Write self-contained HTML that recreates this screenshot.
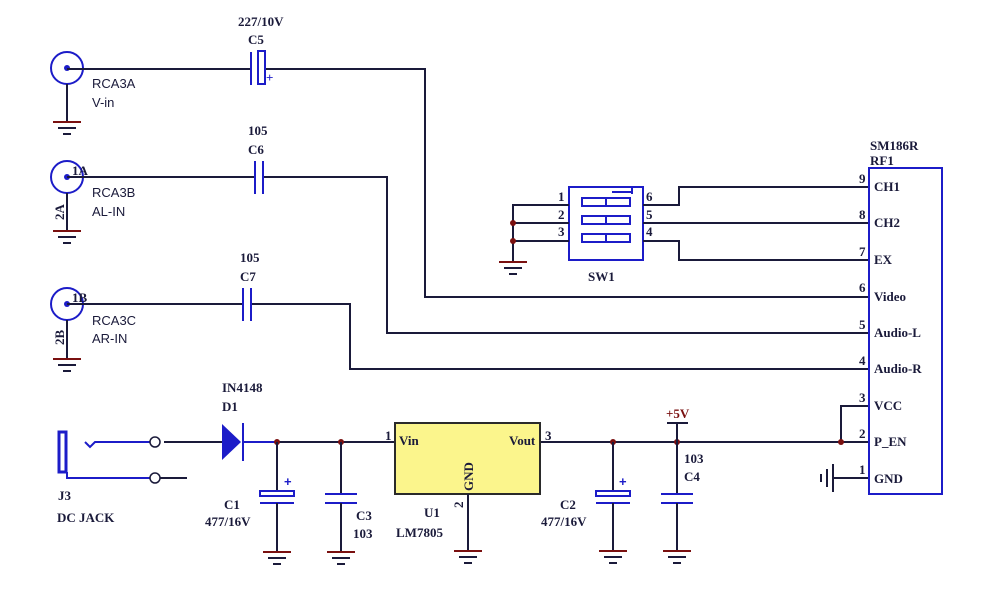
<!DOCTYPE html>
<html><head><meta charset="utf-8"><style>
html,body{margin:0;padding:0;background:#fff;}
svg{display:block;}
.w{stroke:#1a1a3a;stroke-width:2;fill:none;}
.b{stroke:#1c1cc8;stroke-width:2;fill:none;}
.r{stroke:#7a1010;stroke-width:2;fill:none;}
.t{font-family:"Liberation Serif",serif;font-size:13px;fill:#1a1a3a;font-weight:bold;}
.s{font-family:"Liberation Sans",sans-serif;font-size:13px;fill:#1a1a3a;}
</style></head><body>
<svg width="1000" height="598" viewBox="0 0 1000 598" xmlns="http://www.w3.org/2000/svg">
<defs>
<g id="gnd"><line class="r" x1="-14" y1="0" x2="14" y2="0"/><line class="w" x1="-9" y1="6" x2="9" y2="6" stroke-width="1.5"/><line class="w" x1="-4" y1="12" x2="4" y2="12" stroke-width="1.5"/></g>
</defs>
<!-- RCA jacks -->
<g>
<circle cx="67" cy="68" r="16" class="b"/><circle cx="67" cy="68" r="3" fill="#1c1cc8"/>
<line class="w" x1="67" y1="84" x2="67" y2="122"/><use href="#gnd" x="67" y="122"/>
<circle cx="67" cy="177" r="16" class="b"/><circle cx="67" cy="177" r="3" fill="#1c1cc8"/>
<line class="w" x1="67" y1="193" x2="67" y2="231"/><use href="#gnd" x="67" y="231"/>
<circle cx="67" cy="304" r="16" class="b"/><circle cx="67" cy="304" r="3" fill="#1c1cc8"/>
<line class="w" x1="67" y1="320" x2="67" y2="359"/><use href="#gnd" x="67" y="359"/>
</g>
<text class="s" x="92" y="88">RCA3A</text><text class="s" x="92" y="107">V-in</text>
<text class="s" x="92" y="197">RCA3B</text><text class="s" x="92" y="216">AL-IN</text>
<text class="s" x="92" y="325">RCA3C</text><text class="s" x="92" y="343">AR-IN</text>
<text class="t" x="72" y="175" font-size="12">1A</text>
<text class="t" x="72" y="302" font-size="12">1B</text>
<text class="t" transform="translate(64,220) rotate(-90)" font-size="12">2A</text>
<text class="t" transform="translate(64,345) rotate(-90)" font-size="12">2B</text>
<!-- signal wires -->
<polyline class="w" points="67,69 251,69"/><polyline class="w" points="265,69 425,69 425,297 868,297"/>
<polyline class="w" points="67,177 255,177"/><polyline class="w" points="263,177 387,177 387,333 868,333"/>
<polyline class="w" points="67,304 243,304"/><polyline class="w" points="251,304 350,304 350,369 868,369"/>
<!-- C5 -->
<line class="b" x1="251" y1="52" x2="251" y2="85"/><rect class="b" x="258" y="51" width="7" height="33"/>
<text class="t" x="266" y="82" fill="#1c1cc8" style="fill:#1c1cc8">+</text>
<text class="t" x="238" y="26">227/10V</text><text class="t" x="248" y="44">C5</text>
<!-- C6 -->
<line class="b" x1="255" y1="161" x2="255" y2="194"/><line class="b" x1="263" y1="161" x2="263" y2="194"/>
<text class="t" x="248" y="135">105</text><text class="t" x="248" y="154">C6</text>
<!-- C7 -->
<line class="b" x1="243" y1="288" x2="243" y2="321"/><line class="b" x1="251" y1="288" x2="251" y2="321"/>
<text class="t" x="240" y="262">105</text><text class="t" x="240" y="281">C7</text>
<!-- SW1 -->
<rect class="b" x="569" y="187" width="74" height="73"/>
<rect class="b" x="582" y="198" width="48" height="8"/><line class="b" x1="606" y1="198" x2="606" y2="206"/>
<rect class="b" x="582" y="216" width="48" height="8"/><line class="b" x1="606" y1="216" x2="606" y2="224"/>
<rect class="b" x="582" y="234" width="48" height="8"/><line class="b" x1="606" y1="234" x2="606" y2="242"/>
<line class="b" x1="612" y1="192" x2="632" y2="192"/><line class="b" x1="632" y1="188" x2="632" y2="194"/>
<polyline class="w" points="569,205 513,205 513,262"/><line class="w" x1="513" y1="223" x2="569" y2="223"/><line class="w" x1="513" y1="241" x2="569" y2="241"/>
<circle cx="513" cy="223" r="3" fill="#7a1010"/><circle cx="513" cy="241" r="3" fill="#7a1010"/>
<use href="#gnd" x="513" y="262"/>
<text class="t" x="558" y="201">1</text><text class="t" x="558" y="219">2</text><text class="t" x="558" y="236">3</text>
<text class="t" x="646" y="201">6</text><text class="t" x="646" y="219">5</text><text class="t" x="646" y="236">4</text>
<text class="t" x="588" y="281">SW1</text>
<polyline class="w" points="643,205 679,205 679,187 868,187"/>
<line class="w" x1="643" y1="223" x2="868" y2="223"/>
<polyline class="w" points="643,241 679,241 679,260 868,260"/>
<!-- RF1 -->
<rect class="b" x="869" y="168" width="73" height="326"/>
<text class="t" x="870" y="150">SM186R</text><text class="t" x="870" y="165">RF1</text>
<g class="t">
<text x="859" y="183">9</text><text x="874" y="191">CH1</text>
<text x="859" y="219">8</text><text x="874" y="227">CH2</text>
<text x="859" y="256">7</text><text x="874" y="264">EX</text>
<text x="859" y="292">6</text><text x="874" y="301">Video</text>
<text x="859" y="329">5</text><text x="874" y="337">Audio-L</text>
<text x="859" y="365">4</text><text x="874" y="373">Audio-R</text>
<text x="859" y="402">3</text><text x="874" y="410">VCC</text>
<text x="859" y="438">2</text><text x="874" y="446">P_EN</text>
<text x="859" y="474">1</text><text x="874" y="483">GND</text>
</g>
<polyline class="w" points="868,406 841,406 841,442"/>
<polyline class="w" points="868,478 833,478"/>
<line class="w" x1="833" y1="464" x2="833" y2="492"/><line class="w" x1="827" y1="469" x2="827" y2="487" stroke-width="1.5"/><line class="w" x1="821" y1="474" x2="821" y2="482" stroke-width="1.5"/>
<!-- main power line -->
<line class="w" x1="164" y1="442" x2="222" y2="442"/>
<line class="b" x1="243" y1="442" x2="277" y2="442"/>
<line class="w" x1="277" y1="442" x2="395" y2="442"/>
<line class="w" x1="540" y1="442" x2="868" y2="442"/>
<!-- DC jack -->
<rect x="59" y="432" width="7" height="40" fill="#fff" stroke="#1c1cc8" stroke-width="3"/>
<polyline class="b" points="85,442 90,447 95,442 150,442"/>
<circle cx="155" cy="442" r="5" fill="#fff" stroke="#1a1a3a" stroke-width="1.5"/>
<polyline class="b" points="67,472 67,478 150,478"/>
<circle cx="155" cy="478" r="5" fill="#fff" stroke="#1a1a3a" stroke-width="1.5"/>
<line class="w" x1="160" y1="478" x2="187" y2="478"/>
<text class="t" x="58" y="500">J3</text><text class="t" x="57" y="522">DC JACK</text>
<!-- diode -->
<polygon points="222,424 222,460 241,442" fill="#1c1cc8"/><line class="b" x1="243" y1="423" x2="243" y2="461" stroke-width="3"/>
<text class="t" x="222" y="392">IN4148</text><text class="t" x="222" y="411">D1</text>
<!-- C1 -->
<circle cx="277" cy="442" r="3" fill="#7a1010"/>
<line class="w" x1="277" y1="442" x2="277" y2="490"/><rect class="b" x="260" y="491" width="34" height="5"/>
<line class="b" x1="260" y1="503" x2="294" y2="503"/><line class="w" x1="277" y1="503" x2="277" y2="552"/>
<use href="#gnd" x="277" y="552"/>
<text x="284" y="486" style="fill:#1c1cc8;font:bold 13px 'Liberation Sans',sans-serif">+</text>
<text class="t" x="224" y="509">C1</text><text class="t" x="205" y="526">477/16V</text>
<!-- C3 -->
<circle cx="341" cy="442" r="3" fill="#7a1010"/>
<line class="w" x1="341" y1="442" x2="341" y2="494"/><line class="b" x1="325" y1="494" x2="357" y2="494"/><line class="b" x1="325" y1="503" x2="357" y2="503"/>
<line class="w" x1="341" y1="503" x2="341" y2="552"/><use href="#gnd" x="341" y="552"/>
<text class="t" x="356" y="520">C3</text><text class="t" x="353" y="538">103</text>
<!-- U1 -->
<rect x="395" y="423" width="145" height="71" fill="#fbf58c" stroke="#2a2a2a" stroke-width="2"/>
<text class="t" x="385" y="440">1</text><text class="t" x="399" y="445">Vin</text>
<text class="t" x="509" y="445">Vout</text><text class="t" x="545" y="440">3</text>
<text class="t" transform="translate(473,491) rotate(-90)">GND</text>
<text class="t" transform="translate(463,508) rotate(-90)" font-size="11">2</text>
<line class="w" x1="468" y1="494" x2="468" y2="551"/><use href="#gnd" x="468" y="551"/>
<text class="t" x="424" y="517">U1</text><text class="t" x="396" y="537">LM7805</text>
<!-- C2 -->
<circle cx="613" cy="442" r="3" fill="#7a1010"/>
<line class="w" x1="613" y1="442" x2="613" y2="490"/><rect class="b" x="596" y="491" width="34" height="5"/>
<line class="b" x1="596" y1="503" x2="630" y2="503"/><line class="w" x1="613" y1="503" x2="613" y2="551"/>
<use href="#gnd" x="613" y="551"/>
<text x="619" y="486" style="fill:#1c1cc8;font:bold 13px 'Liberation Sans',sans-serif">+</text>
<text class="t" x="560" y="509">C2</text><text class="t" x="541" y="526">477/16V</text>
<!-- C4 -->
<circle cx="677" cy="442" r="3" fill="#7a1010"/>
<line class="w" x1="677" y1="423" x2="677" y2="494"/><line class="w" x1="667" y1="423" x2="688" y2="423"/>
<line class="b" x1="661" y1="494" x2="693" y2="494"/><line class="b" x1="661" y1="503" x2="693" y2="503"/>
<line class="w" x1="677" y1="503" x2="677" y2="551"/><use href="#gnd" x="677" y="551"/>
<text class="t" x="666" y="418" style="fill:#7a1010">+5V</text>
<text class="t" x="684" y="463">103</text><text class="t" x="684" y="481">C4</text>
<circle cx="841" cy="442" r="3" fill="#7a1010"/>
</svg>
</body></html>
